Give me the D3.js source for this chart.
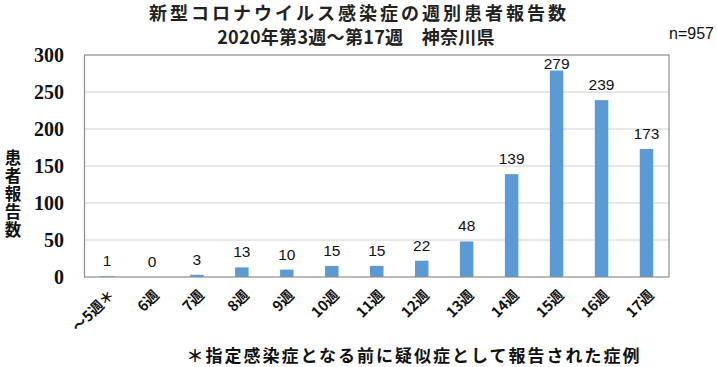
<!DOCTYPE html>
<html><head><meta charset="utf-8">
<script src="https://cdn.jsdelivr.net/npm/d3@7"></script>
<style>
body{margin:0;background:#fff;}
svg{display:block;}
</style></head><body>
<svg id="c" width="717" height="367"></svg>
<script>
const weeks = ["～5週＊","6週","7週","8週","9週","10週","11週","12週","13週","14週","15週","16週","17週"];
const counts = [1,0,3,13,10,15,15,22,48,139,279,239,173];
const yTicks = [0,50,100,150,200,250,300];
const titleLines = ["新型コロナウイルス感染症の週別患者報告数","2020年第3週～第17週　神奈川県"];
const nLabel = "n=957";
const yTitle = "患者報告数";
const footnote = "＊指定感染症となる前に疑似症として報告された症例";

const svg = d3.select("#c");
const L = 84.5, R = 669, T = 55, B = 277;
const x = d3.scaleBand().domain(weeks).range([L, R]).paddingInner(0.7).paddingOuter(0.35);
const y = d3.scaleLinear().domain([0,300]).range([B, T]);
const jp = "'Noto Sans CJK JP','Noto Sans',sans-serif";

// gridlines
svg.append("g").selectAll("line").data(yTicks.filter(d=>d>0 && d<300)).join("line")
  .attr("x1", L).attr("x2", R).attr("y1", d=>y(d)).attr("y2", d=>y(d))
  .attr("stroke", "#d0d0d0").attr("stroke-width", 1);

// bars
svg.append("g").selectAll("rect").data(counts).join("rect")
  .attr("x", (d,i)=>x(weeks[i])).attr("width", x.bandwidth())
  .attr("y", d=>y(d)).attr("height", d=>B - y(d))
  .attr("fill", "#5b9bd5");

// frame
svg.append("rect").attr("x", L).attr("y", T).attr("width", R-L).attr("height", B-T)
  .attr("fill","none").attr("stroke","#8c8c8c").attr("stroke-width",1.2);

// value labels
svg.append("g").selectAll("text").data(counts).join("text")
  .attr("x", (d,i)=>x(weeks[i]) + x.bandwidth()/2)
  .attr("y", d=>Math.max(y(d) - 10, 69))
  .attr("text-anchor","middle")
  .attr("font-family","'Liberation Sans',Arial,sans-serif")
  .attr("font-size", 15.5).attr("fill","#111")
  .text(d=>d);

// y axis
const yAxis = d3.axisLeft(y).tickValues(yTicks).tickSize(0).tickPadding(0);
const ya = svg.append("g").attr("transform", `translate(64,0)`).call(yAxis);
ya.select(".domain").remove();
ya.selectAll("text").attr("font-family","'Liberation Serif','DejaVu Serif',serif")
  .attr("font-weight","bold").attr("font-size",20).attr("fill","#111").attr("dy","0.34em");

// x axis labels
const xAxis = d3.axisBottom(x).tickSize(0).tickPadding(0);
const xa = svg.append("g").attr("transform", `translate(0,${B})`).call(xAxis);
xa.select(".domain").remove();
xa.selectAll("text")
  .attr("font-family", jp).attr("font-weight","bold").attr("font-size",14.5).attr("fill","#111")
  .attr("text-anchor","end")
  .attr("transform","translate(1,12) rotate(-45)")
  .attr("x",0).attr("y",0).attr("dy","0.7em");

// y title (vertical, single text)
svg.append("text")
  .attr("x", 13).attr("y", 149)
  .style("writing-mode","vertical-rl")
  .attr("font-family", jp).attr("font-weight","bold").attr("font-size",16.5).attr("fill","#111")
  .attr("letter-spacing", 1.5)
  .text(yTitle);

// title (single text, two lines)
const title = svg.append("text")
  .attr("text-anchor","middle")
  .attr("font-family", jp).attr("font-weight","bold").attr("font-size",18).attr("fill","#222");
title.selectAll("tspan").data(titleLines).join("tspan")
  .attr("x", (d,i)=> i===0 ? 359 : 356).attr("y", (d,i)=>20 + i*24)
  .attr("letter-spacing", (d,i)=> i===0 ? 3 : 0.3)
  .text(d=>d);

svg.append("text").attr("x", 714).attr("y", 39).attr("text-anchor","end")
  .attr("font-family","'Liberation Sans Narrow','Liberation Sans',Arial,sans-serif")
  .attr("font-size",16).attr("fill","#111").text(nLabel);

svg.append("text").attr("x", 414).attr("y", 362).attr("text-anchor","middle")
  .attr("font-family", jp).attr("font-weight","bold").attr("font-size",17).attr("fill","#111")
  .attr("letter-spacing", 2)
  .text(footnote);
</script>
</body></html>
